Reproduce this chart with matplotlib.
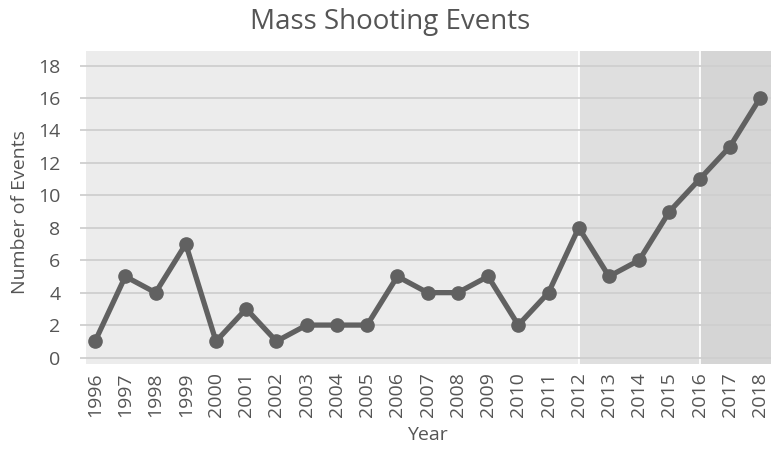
import matplotlib
matplotlib.use("Agg")
import matplotlib.pyplot as plt

years = list(range(1996, 2019))
events = [1, 5, 4, 7, 1, 3, 1, 2, 2, 2, 5, 4, 4, 5, 2, 4, 8, 5, 6, 9, 11, 13, 16]
yticks = [0, 2, 4, 6, 8, 10, 12, 14, 16, 18]
band_edges = [2012, 2016]

plt.rcParams['font.family'] = ['Open Sans', 'DejaVu Sans']

W, H = 771, 451
fig = plt.figure(figsize=(W / 100, H / 100), dpi=100)
left, right, top, bottom = 86, 771, 51, 364
ax = fig.add_axes([left / W, 1 - bottom / H, (right - left) / W, (bottom - top) / H])

xmin, xmax = 1995.7, 2018.36
ymin, ymax = -0.4, 18.9
ax.set_xlim(xmin, xmax)
ax.set_ylim(ymin, ymax)

ax.set_facecolor('#ececec')
ax.axvspan(band_edges[0], band_edges[1], color='#dfdfdf', zorder=0, lw=0)
ax.axvspan(band_edges[1], xmax, color='#d5d5d5', zorder=0, lw=0)
for b in band_edges:
    ax.axvline(b, color='white', lw=1.3, zorder=1)

for y in yticks:
    ax.axhline(y, color='#cfcfcf', lw=1.3, zorder=1)

ax.plot(years, events, color='#616161', lw=3.8, marker='o', markersize=9.5,
        zorder=3, solid_capstyle='round')

for s in ax.spines.values():
    s.set_visible(False)

ax.set_yticks(yticks)
ax.set_yticklabels([str(v) for v in yticks])
ax.set_xticks(years)
ax.set_xticklabels([str(y) for y in years], rotation=90)
ax.tick_params(axis='y', length=4.5, width=1.3, color='#cfcfcf', pad=14,
               labelsize=14, labelcolor='#555555')
ax.tick_params(axis='x', length=0, pad=6, labelsize=14, labelcolor='#555555')

fig.text(390 / W, 1 - 22 / H, 'Mass Shooting Events', ha='center', va='center',
         fontsize=20, color='#555555')
fig.text(20 / W, 1 - 212 / H, 'Number of Events', ha='center', va='center',
         rotation=90, fontsize=14, color='#555555')
fig.text(427 / W, 1 - 435 / H, 'Year', ha='center', va='center',
         fontsize=14, color='#555555')

fig.savefig('out.png', dpi=100, facecolor='white')
